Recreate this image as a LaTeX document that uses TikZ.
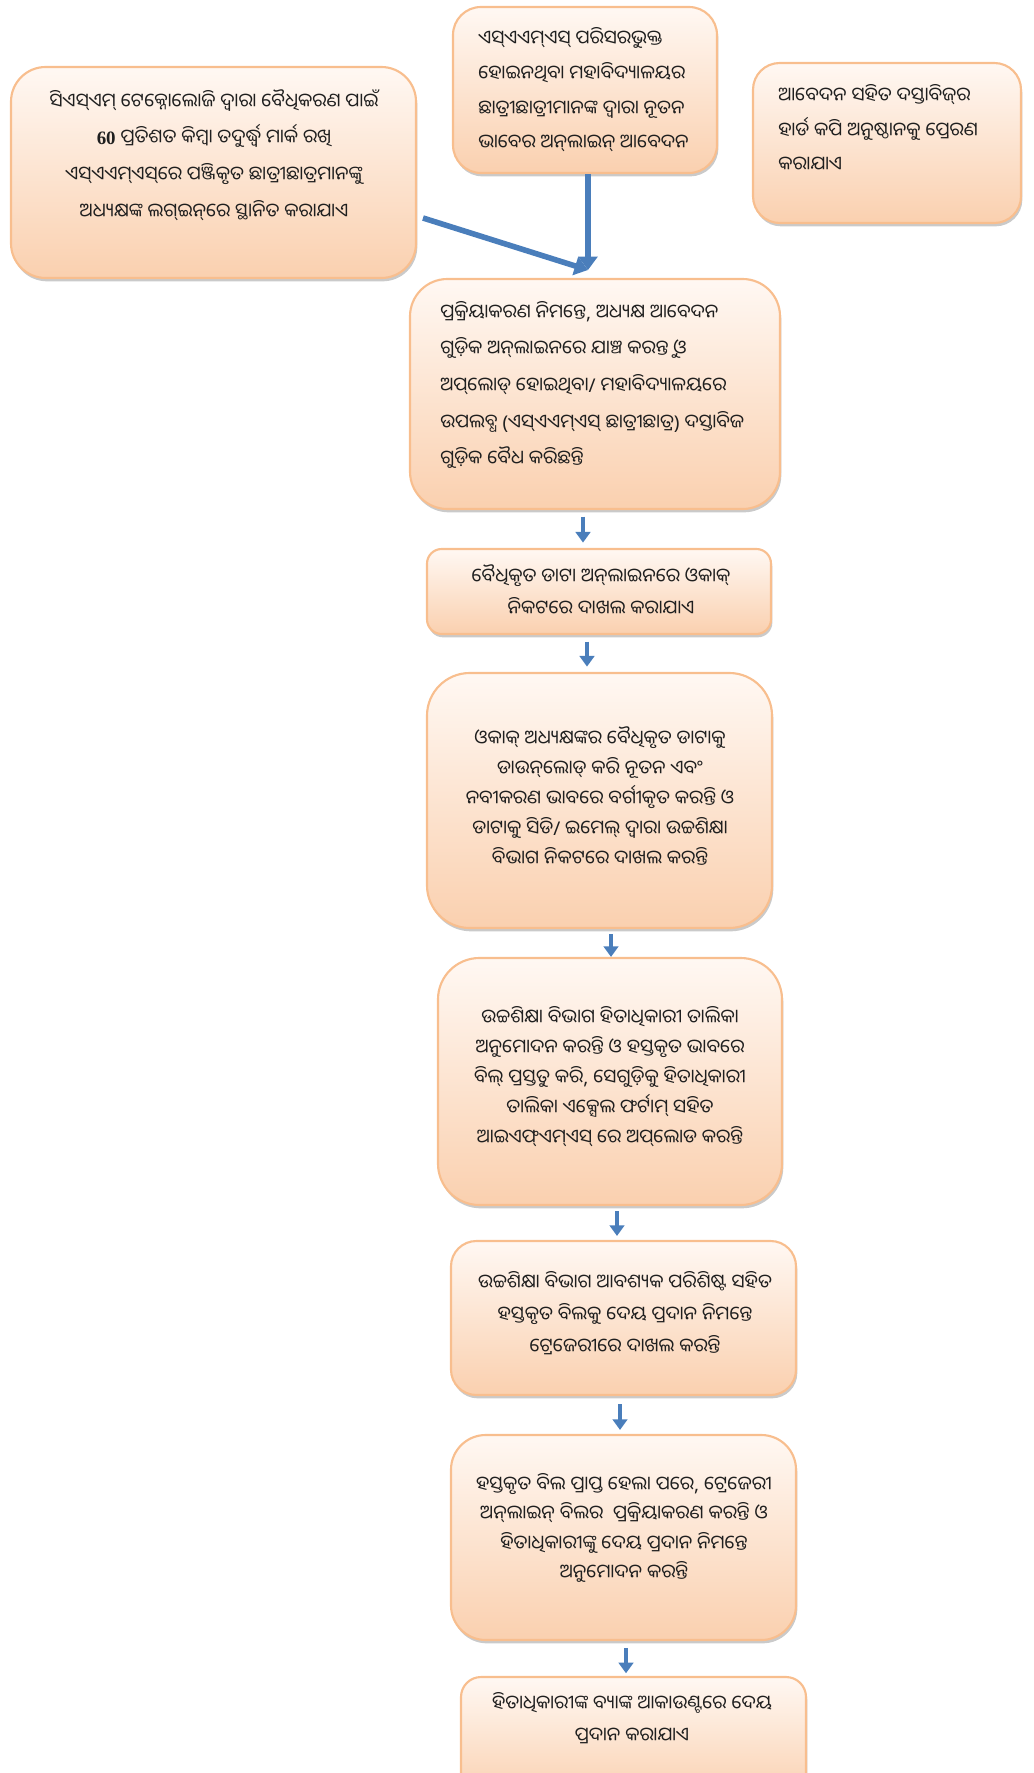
\documentclass[tikz,border=0pt]{standalone}
\usepackage{fontspec}
\newfontfamily\odia[Script=Oriya]{Noto Sans Oriya UI}
\newfontfamily\latn{Noto Sans}
\newfontfamily\latnserif{Liberation Serif}
\usetikzlibrary{arrows.meta,shadows,fit}
\definecolor{bordc}{HTML}{F8BE8E}
\definecolor{topc}{HTML}{FFF8F3}
\definecolor{botc}{HTML}{FAD0AF}
\definecolor{arrc}{HTML}{4A7EBB}
\newcommand\zw{^^^^200c}
\newcommand\ltn[1]{{\latn #1}}
\begin{document}
\begin{tikzpicture}[x=0.75pt,y=-0.75pt,
  box/.style={draw=bordc, line width=1.6pt, top color=topc, bottom color=botc,
    inner sep=0pt, rounded corners=#1,
    drop shadow={shadow xshift=1pt, shadow yshift=-2.5pt, opacity=0.35, fill=black!60}},
  txt/.style={font=\odia\fontsize{14.2}{#1}\selectfont, inner sep=0pt, text=black!88},
  arr/.style={draw=arrc, line width=3.4pt, -{Triangle[width=11pt,length=8pt]}}]
\useasboundingbox (0,0) rectangle (1034,1773);

% boxes
\node[box=26pt, fit={(11,67) (416,278)}] (b1) {};
\node[box=21pt, fit={(453,7) (717,173)}] (b2) {};
\node[box=20pt, fit={(753,63) (1021,223)}] (b3) {};
\node[box=28pt, fit={(410,279) (780,509)}] (b4) {};
\node[box=11pt, fit={(427,549) (771,634)}] (b5) {};
\node[box=32pt, fit={(427,673) (772,928)}] (b6) {};
\node[box=31pt, fit={(438,958) (782,1205)}] (b7) {};
\node[box=19pt, fit={(451,1241) (796,1395)}] (b8) {};
\node[box=26pt, fit={(451,1435) (796,1640)}] (b9) {};
\node[box=15pt, fit={(461,1677) (806,1800)}] (b10) {};

% texts
\node[txt=27.5pt, align=center] (t1) at (214,155) {ସିଏସ୍ଏମ୍ ଟେକ୍ନୋଲୋଜି ଦ୍ୱାରା ବୈଧିକରଣ ପାଇଁ\\{\latnserif\bfseries 60} ପ୍ରତିଶତ କିମ୍ବା ତଦୁର୍ଦ୍ଧ୍ୱ ମାର୍କ ରଖି\\ଏସ୍ଏଏମ୍ଏସ୍\zw ରେ ପଞ୍ଜିକୃତ ଛାତ୍ରୀଛାତ୍ରମାନଙ୍କୁ\\ଅଧ୍ୟକ୍ଷଙ୍କ ଲଗ୍ଇନ୍\zw ରେ ସ୍ଥାନିତ କରାଯାଏ};
\node[txt=26pt, align=left, anchor=west] (t2) at (478,90) {ଏସ୍ଏଏମ୍ଏସ୍ ପରିସରଭୁକ୍ତ\\ହୋଇନଥିବା ମହାବିଦ୍ୟାଳୟର\\ଛାତ୍ରୀଛାତ୍ରୀମାନଙ୍କ ଦ୍ୱାରା ନୂତନ\\ଭାବେର ଅନ୍\zw ଲାଇନ୍ ଆବେଦନ};
\node[txt=26pt, align=left, anchor=west] (t3) at (778,128) {ଆବେଦନ ସହିତ ଦସ୍ତାବିଜ୍\zw ର\\ହାର୍ଡ କପି ଅନୁଷ୍ଠାନକୁ ପ୍ରେରଣ\\କରାଯାଏ};
\node[txt=27.5pt, align=left, anchor=west] (t4) at (440,385) {ପ୍ରକ୍ରିୟାକରଣ ନିମନ୍ତେ\ltn{,} ଅଧ୍ୟକ୍ଷ ଆବେଦନ\\ଗୁଡ଼ିକ ଅନ୍\zw ଲାଇନରେ ଯାଞ୍ଚ କରନ୍ତୁ ଓ\\ଅପ୍\zw ଲୋଡ୍ ହୋଇଥିବା\ltn{/} ମହାବିଦ୍ୟାଳୟରେ\\ଉପଲବ୍ଧ \ltn{(}ଏସ୍ଏଏମ୍ଏସ୍ ଛାତ୍ରୀଛାତ୍ର\ltn{)} ଦସ୍ତାବିଜ\\ଗୁଡ଼ିକ ବୈଧ କରିଛନ୍ତି};
\node[txt=24pt, align=center] (t5) at (601,590) {ବୈଧିକୃତ ଡାଟା ଅନ୍\zw ଲାଇନରେ ଓକାକ୍\\ନିକଟରେ ଦାଖଲ କରାଯାଏ};
\node[txt=22.5pt, align=center] (t6) at (600,796) {ଓକାକ୍ ଅଧ୍ୟକ୍ଷଙ୍କର ବୈଧିକୃତ ଡାଟାକୁ\\ଡାଉନ୍\zw ଲୋଡ୍ କରି ନୂତନ ଏବଂ\\ନବୀକରଣ ଭାବରେ ବର୍ଗୀକୃତ କରନ୍ତି ଓ\\ଡାଟାକୁ ସିଡି\ltn{/} ଇମେଲ୍ ଦ୍ୱାରା ଉଚ୍ଚଶିକ୍ଷା\\ବିଭାଗ ନିକଟରେ ଦାଖଲ କରନ୍ତି};
\node[txt=22.5pt, align=center] (t7) at (610,1077) {ଉଚ୍ଚଶିକ୍ଷା ବିଭାଗ ହିତାଧିକାରୀ ତାଲିକା\\ଅନୁମୋଦନ କରନ୍ତି ଓ ହସ୍ତକୃତ ଭାବରେ\\ବିଲ୍ ପ୍ରସ୍ତୁତ କରି\ltn{,} ସେଗୁଡ଼ିକୁ ହିତାଧିକାରୀ\\ତାଲିକା ଏକ୍ସେଲ ଫର୍ଟାମ୍ ସହିତ\\ଆଇଏଫ୍ଏମ୍ଏସ୍ ରେ ଅପ୍\zw ଲୋଡ କରନ୍ତି};
\node[txt=24pt, align=center] (t8) at (625,1313) {ଉଚ୍ଚଶିକ୍ଷା ବିଭାଗ ଆବଶ୍ୟକ ପରିଶିଷ୍ଟ ସହିତ\\ହସ୍ତକୃତ ବିଲକୁ ଦେୟ ପ୍ରଦାନ ନିମନ୍ତେ\\ଟ୍ରେଜେରୀରେ ଦାଖଲ କରନ୍ତି};
\node[txt=22pt, align=center] (t9) at (624,1528) {ହସ୍ତକୃତ ବିଲ ପ୍ରାପ୍ତ ହେଲା ପରେ\ltn{,} ଟ୍ରେଜେରୀ\\ଅନ୍\zw ଲାଇନ୍ ବିଲର \ ପ୍ରକ୍ରିୟାକରଣ କରନ୍ତି ଓ\\ହିତାଧିକାରୀଙ୍କୁ ଦେୟ ପ୍ରଦାନ ନିମନ୍ତେ\\ଅନୁମୋଦନ କରନ୍ତି};
\node[txt=24.5pt, align=center] (t10) at (632,1718) {ହିତାଧିକାରୀଙ୍କ ବ୍ୟାଙ୍କ ଆକାଉଣ୍ଟରେ ଦେୟ\\ପ୍ରଦାନ କରାଯାଏ};

% connector helpers
\coordinate (xa) at (588,0);
\coordinate (m) at (588,270);
\coordinate (d1) at (423,218);
\coordinate (x45) at (583,0);
\coordinate (x56) at (587,0);
\coordinate (x67) at (611,0);
\coordinate (x78) at (617,0);
\coordinate (x89) at (620,0);
\coordinate (x910) at (626,0);

\draw[arr, line width=4.2pt, -{Triangle[width=14pt,length=10pt]}] (b2.south -| xa) -- (m);
\draw[arr, line width=4.2pt, -{Triangle[width=14pt,length=10pt]}] (d1) -- (m);
\draw[arr, shorten <=5pt, shorten >=4pt] (b4.south -| x45) -- (b5.north -| x45);
\draw[arr, shorten <=5pt, shorten >=4pt] (b5.south -| x56) -- (b6.north -| x56);
\draw[arr, shorten <=4pt, shorten >=0pt] (b6.south -| x67) -- (b7.north -| x67);
\draw[arr, shorten <=4pt, shorten >=3pt] (b7.south -| x78) -- (b8.north -| x78);
\draw[arr, shorten <=6pt, shorten >=3pt] (b8.south -| x89) -- (b9.north -| x89);
\draw[arr, shorten <=5pt, shorten >=2pt] (b9.south -| x910) -- (b10.north -| x910);
\end{tikzpicture}
\end{document}
